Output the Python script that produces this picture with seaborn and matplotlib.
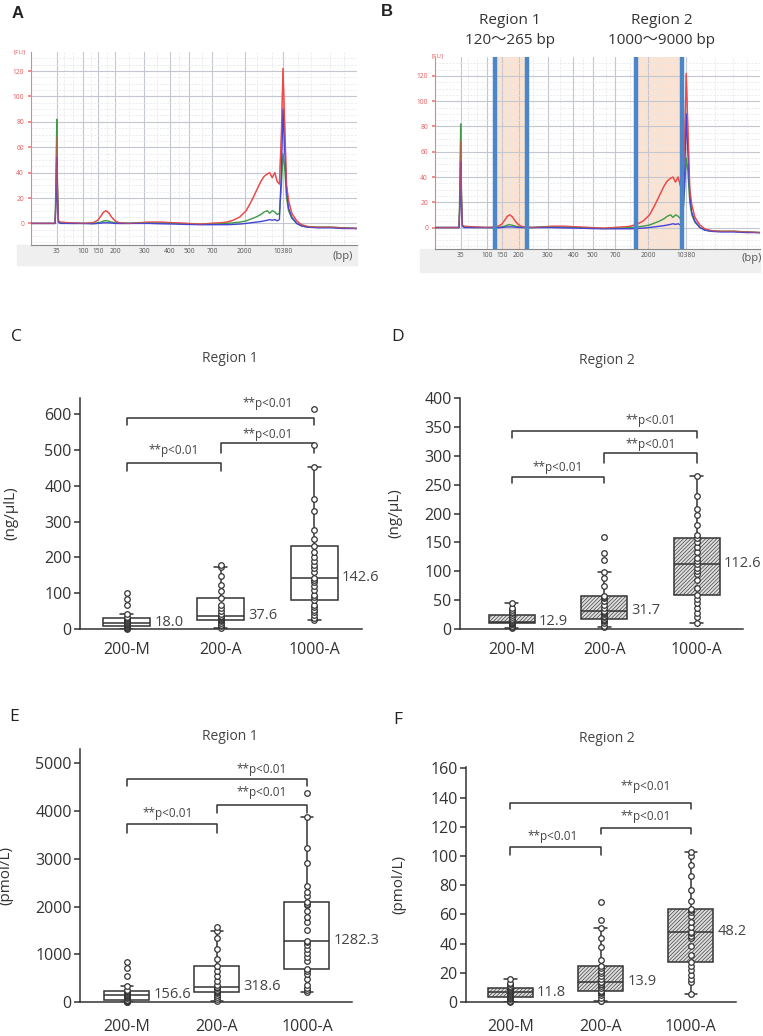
import numpy as np
import pandas as pd
import matplotlib
matplotlib.use('Agg')
import matplotlib.pyplot as plt
from matplotlib.patches import Rectangle
import seaborn as sns

sns.set_theme(style='ticks')
plt.rcParams['font.family'] = ['Open Sans', 'DejaVu Sans']
plt.rcParams['hatch.linewidth'] = 0.45

W, H = 763, 1036

# ---------------- electropherogram data (panels A and B) ----------------
bp_labels = ['35', '100', '150', '200', '300', '400', '500', '700', '2000', '10380']
bp_pos = [7.9, 16.0, 20.6, 25.8, 34.7, 42.6, 48.5, 55.5, 65.6, 77.3]
grid_extra = [10.2, 13.0, 18.3, 23.2, 30.0, 38.6, 45.5, 52.5, 60.0, 69.2, 73.8, 82.0, 86.0, 91.7, 96.0]

trace_x = [0, 7.4, 7.7, 7.9, 8.1, 8.4, 9, 12, 16, 19,
           20.5, 21.5, 22.3, 23, 23.8, 24.7, 25.8, 27, 30, 33,
           36, 40, 44, 48, 52, 55, 58, 60, 62, 64,
           66, 67.5, 69, 70.5, 71.5, 72.5, 73.2, 74, 74.8, 75.5,
           76.2, 76.8, 77.3, 77.8, 78.4, 79, 80, 81.5, 83, 85,
           88, 92, 96, 100]
red = [0, 0, 25, 68, 30, 2, 1, 0.5, 0, 0.5,
       2.5, 6, 9, 10, 8.5, 5, 2, 0.5, 0, 0.5,
       1, 1, 0.5, 0, -0.5, 0, 0.5, 1, 2.5, 5,
       10, 17, 25, 33, 37, 39, 40, 36, 40, 33,
       31, 70, 122, 80, 30, 18, 8, 2, -1, -2.5,
       -3, -3, -3.5, -4]
green = [0, 0, 40, 82, 35, 2, 0.5, 0, 0, 0,
         0.5, 1, 2, 2.2, 1.8, 1, 0.5, 0, 0, 0.5,
         0.5, 0.3, 0, -0.5, -0.8, -0.5, -0.3, 0, 0.5, 1,
         2, 3.5, 5, 7, 9, 10, 8, 10, 9, 7,
         8, 30, 55, 45, 20, 10, 4, 0, -2, -3,
         -3, -3, -3.5, -4]
blue = [0, 0, 20, 52, 20, 1, 0, 0, 0, -0.3,
        0, 0.3, 0.5, 0.5, 0.5, 0.3, 0, 0, 0, 0,
        0, -0.3, -0.5, -0.8, -1, -1, -1, -1, -0.8, -0.5,
        0, 0.5, 1, 1.5, 2, 2.5, 3, 2.5, 3, 2,
        3, 40, 90, 60, 25, 12, 5, 0, -2, -3,
        -3.5, -3.5, -4, -4]
region_edges = [18.4, 28.4, 61.7, 76.0]

# ---------------- box plot data (panels C-F) ----------------
groups = ['200-M', '200-A', '1000-A']

c_200m = [0, 2, 3, 5, 6, 8, 12, 14, 15, 17, 18, 20, 22, 24, 27, 30, 34, 42, 67, 84, 100]
c_200a = [3, 8, 12, 17, 22, 26, 28, 30, 33, 36, 37.6, 42, 49, 60, 68, 86, 105, 124, 149, 172, 179]
c_1000a = [24, 32, 40, 48, 54, 62, 68, 80, 90, 96, 110, 121, 130, 136, 142.6, 160, 170, 180,
           189, 202, 215, 233, 251, 277, 330, 362, 452, 513, 615]
c_medians = ['18.0', '37.6', '142.6']

d_200m = [2, 4, 6, 8, 9, 10.4, 11, 12, 12.5, 12.8, 12.9, 14, 16, 18, 21, 24.8, 27, 30, 33, 36, 45]
d_200a = [3, 6, 10, 13, 15, 16, 17.9, 20, 23, 26, 28, 30, 31.7, 36, 42, 48, 53, 55, 57.7,
          74, 88, 98, 120, 132, 159]
d_1000a = [10.4, 20, 28, 36, 45, 52, 59.5, 71, 85, 95, 100, 106, 112.6, 118, 123, 134, 142,
           150, 157.6, 162, 180, 198, 208, 230, 265.5]
d_medians = ['12.9', '31.7', '112.6']

e_200m = [0, 10, 20, 30, 40, 49, 80, 110, 130, 145, 156.6, 170, 190, 210, 225, 237, 258, 342,
          540, 711, 830]
e_200a = [14, 60, 110, 153, 180, 202, 230, 258, 290, 305, 318.6, 363, 450, 537, 640, 746, 900,
          1109, 1339, 1492, 1569]
e_1000a = [202, 258, 300, 363, 481, 593, 640, 690, 865, 950, 1025, 1100, 1200, 1250, 1282.3,
           1513, 1674, 1771, 1900, 2036, 2060, 2092, 2211, 2300, 2434, 2908, 3222, 3884, 4372]
e_medians = ['156.6', '318.6', '1282.3']

f_200m = [0, 0.5, 1, 2, 3, 3.2, 4, 5, 5.5, 6, 6.8, 7.5, 8, 8.5, 9, 9.5, 10, 11, 12, 13, 16]
f_200a = [0.5, 1, 3, 5, 6, 7, 7.3, 9.5, 11, 12, 12.5, 13.5, 13.9, 16, 18, 20, 21, 23, 25,
          29, 38, 43.6, 51, 56, 68.6]
f_1000a = [5.7, 13.4, 16, 18.6, 22, 24.8, 27.3, 32, 38.4, 43.6, 45, 47, 48.2, 51.6, 55, 59,
           62, 63, 64, 69, 77, 86.4, 94, 100, 103]
f_medians = ['11.8', '13.9', '48.2']

sig_text = '**p<0.01'
dark = '#333333'


def px_axes(fig, l, t, r, b):
    return fig.add_axes([l / W, 1 - b / H, (r - l) / W, (b - t) / H])


def ftext(fig, x, y, s, **kw):
    fig.text(x / W, 1 - y / H, s, **kw)


def egram(fig, ax, band, fu_xy, bp_xy, shaded=False):
    ax.set_facecolor('white')
    if shaded:
        ax.axvspan(region_edges[0], region_edges[1], color='#fbe3d3', zorder=0.2, lw=0)
        ax.axvspan(region_edges[2], region_edges[3], color='#fbe3d3', zorder=0.2, lw=0)
    for vals, col in [(red, '#ef4a4a'), (green, '#3f9a45'), (blue, '#4444d8')]:
        sns.lineplot(x=trace_x, y=vals, color=col, lw=1.0, sort=False, estimator=None,
                     ax=ax, zorder=3)
    # red drawn again faintly on top, as in the instrument plot
    sns.lineplot(x=trace_x, y=red, color='#ef4a4a', lw=0.8, sort=False, estimator=None,
                 ax=ax, zorder=3.5, alpha=0.6)
    if shaded:
        for xv in region_edges:
            ax.axvline(xv, color='#4a86c8', lw=3.2, zorder=5)
    ax.set_xlim(0, 100)
    ax.set_ylim(-17, 135)
    ax.set_xticks(bp_pos)
    ax.set_xticklabels(bp_labels)
    ax.set_xticks(grid_extra, minor=True)
    ax.set_yticks(range(0, 121, 20))
    ax.set_yticks(range(-15, 135, 5), minor=True)
    ax.set_axisbelow(True)
    ax.grid(True, which='major', color='#c3c7d0', lw=0.8)
    ax.grid(True, which='minor', color='#e3e5ea', lw=0.5, ls=(0, (3, 2)))
    ax.tick_params(axis='x', which='both', length=0, labelsize=4.8, labelcolor='#555555', pad=2.5)
    ax.tick_params(axis='y', which='major', length=2, color='#f08080', labelsize=4.8,
                   labelcolor='#e85a5a', pad=3)
    ax.tick_params(axis='y', which='minor', length=0)
    for s in ['top', 'right']:
        ax.spines[s].set_visible(False)
    ax.spines['left'].set_color('#f08080')
    ax.spines['left'].set_linewidth(0.8)
    ax.spines['bottom'].set_color('#888888')
    ax.spines['bottom'].set_linewidth(0.8)
    ax.set_xlabel('')
    ax.set_ylabel('')
    bl, bt, br, bb = band
    fig.patches.append(Rectangle((bl / W, 1 - bb / H), (br - bl) / W, (bb - bt) / H,
                                 transform=fig.transFigure, color='#efefef', zorder=-1))
    ftext(fig, fu_xy[0], fu_xy[1], '[FU]', fontsize=4.5, color='#e85a5a', ha='center', va='center')
    ftext(fig, bp_xy[0], bp_xy[1], '(bp)', fontsize=8, color='#555555', ha='center', va='center')


def box_panel(ax, data, medians, hatched, xlim, ylim, yticks, ylabel, ylab_x, brackets, xpad=9):
    df = pd.DataFrame({
        'group': np.repeat(groups, [len(g) for g in data]),
        'value': np.concatenate(data),
    })
    sns.boxplot(data=df, x='group', y='value', order=groups, width=0.5, color='white',
                linecolor=dark, linewidth=1.1, showfliers=False, capwidths=0.14, ax=ax)
    if hatched:
        for p in ax.patches:
            p.set_facecolor('#dedede')
            p.set_hatch('/////////')
    sns.stripplot(data=df, x='group', y='value', order=groups, jitter=False, color='white',
                  edgecolor=dark, linewidth=0.9, size=4.0, ax=ax, zorder=4, clip_on=False)
    for i, g in enumerate(data):
        ax.annotate(medians[i], (i + 0.25, np.median(g)), xytext=(3, 0),
                    textcoords='offset points', ha='left', va='center',
                    fontsize=10.5, color='#444444')
    for (x0, x1, top, tip, ty, tx) in brackets:
        ax.plot([x0, x0, x1, x1], [tip, top, top, tip], color=dark, lw=1.1, clip_on=False)
        ax.text(tx, ty, sig_text, ha='center', va='center', fontsize=8.5, color='#444444')
    ax.set_xlim(*xlim)
    ax.set_ylim(*ylim)
    ax.set_yticks(yticks)
    sns.despine(ax=ax)
    for s in ['left', 'bottom']:
        ax.spines[s].set_color(dark)
        ax.spines[s].set_linewidth(1.1)
    ax.tick_params(axis='y', length=4, width=1.1, color=dark, labelsize=11.5,
                   labelcolor='#333333', pad=2)
    ax.tick_params(axis='x', length=0, labelsize=11.5, labelcolor='#333333', pad=xpad)
    ax.set_xlabel('')
    ax.set_ylabel(ylabel, fontsize=11, color='#333333')
    ax.yaxis.set_label_coords(ylab_x, 0.5)


fig = plt.figure(figsize=(W / 100, H / 100), dpi=100)

# ---- A ----
axA = px_axes(fig, 31, 52, 357, 245)
egram(fig, axA, (17, 245, 357, 265), (20, 52), (343, 256))
ftext(fig, 18, 14, 'A', fontsize=12, fontweight='bold', family='Liberation Sans',
      ha='center', va='center', color='#222222')

# ---- B ----
axB = px_axes(fig, 435, 57, 760, 249)
egram(fig, axB, (420, 249, 760, 272), (437, 56), (752, 258), shaded=True)
ftext(fig, 387, 12, 'B', fontsize=12, fontweight='bold', family='Liberation Sans',
      ha='center', va='center', color='#222222')
cjk = ['Open Sans', 'Noto Sans CJK JP', 'DejaVu Sans']
ftext(fig, 510, 20, 'Region 1', fontsize=11, family=cjk, ha='center', va='center', color='#333333')
ftext(fig, 510, 40, '120～265 bp', fontsize=11, family=cjk, ha='center', va='center', color='#333333')
ftext(fig, 662, 20, 'Region 2', fontsize=11, family=cjk, ha='center', va='center', color='#333333')
ftext(fig, 662, 40, '1000～9000 bp', fontsize=11, family=cjk, ha='center', va='center', color='#333333')

# ---- C ----
axC = px_axes(fig, 80, 398, 362, 629)
box_panel(axC, [c_200m, c_200a, c_1000a], c_medians, False, (-0.5, 2.51), (0, 645),
          range(0, 601, 100), '(ng/µlL)', -0.22,
          [(0, 1, 464, 440, 498, 0.5), (1, 2, 518, 492, 544, 1.5), (0, 2, 590, 569, 630, 1.5)])
ftext(fig, 16, 337, 'C', fontsize=12.5, ha='center', va='center', color='#222222')
ftext(fig, 230, 358, 'Region 1', fontsize=10, ha='center', va='center', color='#444444')

# ---- D ----
axD = px_axes(fig, 460, 398, 743, 629)
box_panel(axD, [d_200m, d_200a, d_1000a], d_medians, True, (-0.56, 2.5), (0, 400),
          range(0, 401, 50), '(ng/µL)', -0.205,
          [(0, 1, 263, 252, 279, 0.5), (1, 2, 304, 287, 319, 1.5), (0, 2, 342, 331, 361, 1.5)])
ftext(fig, 398, 337, 'D', fontsize=12.5, ha='center', va='center', color='#222222')
ftext(fig, 607, 361, 'Region 2', fontsize=10, ha='center', va='center', color='#444444')

# ---- E ----
axE = px_axes(fig, 80, 749, 352, 1002)
box_panel(axE, [e_200m, e_200a, e_1000a], e_medians, False, (-0.52, 2.5), (0, 5300),
          range(0, 5001, 1000), '(pmol/L)', -0.246,
          [(0, 1, 3724, 3550, 3940, 0.45), (1, 2, 4128, 3968, 4386, 1.5),
           (0, 2, 4665, 4526, 4881, 1.5)], xpad=12)
ftext(fig, 14, 717, 'E', fontsize=12.5, ha='center', va='center', color='#222222')
ftext(fig, 230, 737, 'Region 1', fontsize=10, ha='center', va='center', color='#444444')

# ---- F ----
axF = px_axes(fig, 466, 767, 736, 1002)
box_panel(axF, [f_200m, f_200a, f_1000a], f_medians, True, (-0.49, 2.5), (0, 161),
          range(0, 161, 20), '(pmol/L)', -0.22,
          [(0, 1, 106, 101, 113.6, 0.47), (1, 2, 119.3, 114.8, 127.3, 1.5),
           (0, 2, 136, 132, 147.5, 1.5)], xpad=12)
ftext(fig, 398, 720, 'F', fontsize=12.5, ha='center', va='center', color='#222222')
ftext(fig, 607, 738, 'Region 2', fontsize=10, ha='center', va='center', color='#444444')

fig.savefig('out.png', dpi=100, facecolor='white')
